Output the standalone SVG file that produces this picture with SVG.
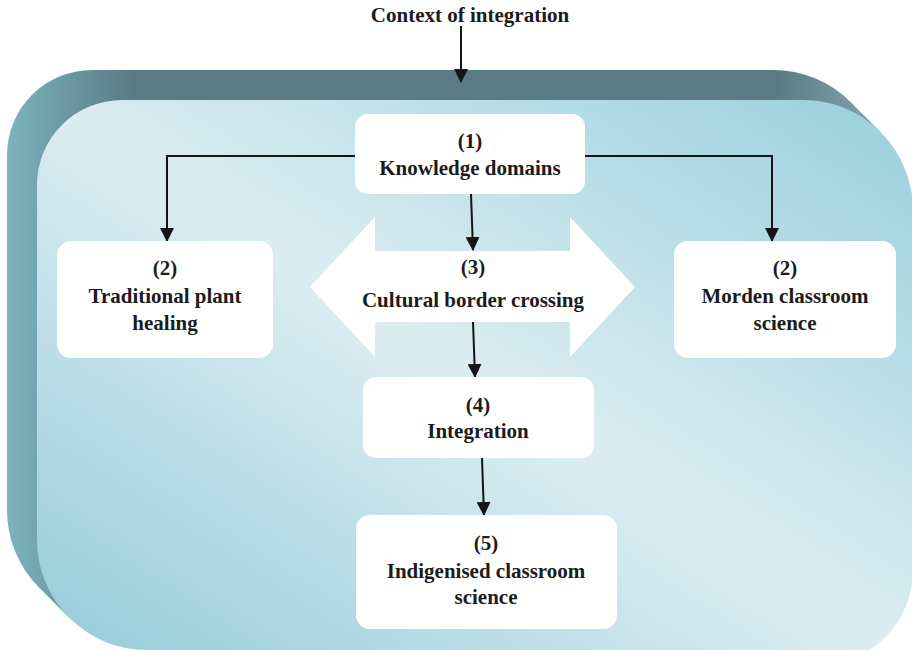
<svg xmlns="http://www.w3.org/2000/svg" width="912" height="650" viewBox="0 0 912 650">
<style>
.t{font-family:"Liberation Serif","Times New Roman",serif;font-weight:bold;font-size:21px;fill:#1c1c1c;text-anchor:middle}
.box{fill:#ffffff}
.ln{fill:none;stroke:#151515;stroke-width:2}
</style>
<defs>
<linearGradient id="side" gradientUnits="userSpaceOnUse" x1="7" y1="0" x2="912" y2="0">
<stop offset="0" stop-color="#7db2c0"/>
<stop offset="0.06" stop-color="#6d9ba6"/>
<stop offset="0.14" stop-color="#5a7b83"/>
<stop offset="0.85" stop-color="#5a7b83"/>
<stop offset="0.97" stop-color="#84aab3"/>
</linearGradient>
<linearGradient id="face" x1="0" y1="1" x2="1" y2="0">
<stop offset="0" stop-color="#92cad9"/>
<stop offset="0.5" stop-color="#dcedf2"/>
<stop offset="1" stop-color="#98cfdc"/>
</linearGradient>
<marker id="ah" markerUnits="userSpaceOnUse" markerWidth="14" markerHeight="14" refX="13" refY="7" orient="auto">
<path d="M0,0 L14,7 L0,14 Z" fill="#151515"/>
</marker>
</defs>
<rect width="912" height="650" fill="#ffffff"/>
<g id="container">
<path fill="url(#side)" d="M7,155 A85,85 0 0 1 92,70 L773,70 A110,110 0 0 1 850.8,102.2 L880.8,132.2 L69.2,617.8 L39.2,587.8 A110,110 0 0 1 7,510 Z"/>
<path fill="url(#face)" d="M37,185 A85,85 0 0 1 122,100 L803,100 A110,110 0 0 1 913,210 L913,570 A95,95 0 0 1 818,665 L147,650 A110,110 0 0 1 37,540 Z"/>
</g>
<g id="connectors">
<line class="ln" x1="461" y1="26" x2="461" y2="82" marker-end="url(#ah)"/>
<polyline class="ln" points="355,156 167,156 167,241" marker-end="url(#ah)"/>
<polyline class="ln" points="585,156 772,156 772,241" marker-end="url(#ah)"/>
<line class="ln" x1="471" y1="194" x2="473" y2="250" marker-end="url(#ah)"/>
<line class="ln" x1="473" y1="322" x2="475" y2="377" marker-end="url(#ah)"/>
<line class="ln" x1="482" y1="458" x2="484" y2="515" marker-end="url(#ah)"/>
</g>
<g id="title">
<text class="t" x="470" y="22">Context of integration</text>
</g>
<g id="node1">
<rect class="box" x="355" y="114" width="230" height="80" rx="13"/>
<text class="t" x="470" y="148">(1)</text>
<text class="t" x="470" y="175">Knowledge domains</text>
</g>
<g id="node2a">
<rect class="box" x="57" y="241" width="216" height="117" rx="14"/>
<text class="t" x="165" y="275">(2)</text>
<text class="t" x="165" y="303">Traditional plant</text>
<text class="t" x="165" y="330">healing</text>
</g>
<g id="node2b">
<rect class="box" x="674" y="241" width="222" height="117" rx="14"/>
<text class="t" x="785" y="275">(2)</text>
<text class="t" x="785" y="303">Morden classroom</text>
<text class="t" x="785" y="330">science</text>
</g>
<g id="node3">
<polygon class="box" points="310,287 375,217 375,251 570,251 570,217 635,287 570,357 570,322 375,322 375,357"/>
<text class="t" x="473" y="274">(3)</text>
<text class="t" x="473" y="307">Cultural border crossing</text>
</g>
<g id="node4">
<rect class="box" x="363" y="377" width="231" height="81" rx="13"/>
<text class="t" x="478" y="412">(4)</text>
<text class="t" x="478" y="438">Integration</text>
</g>
<g id="node5">
<rect class="box" x="356" y="515" width="261" height="114" rx="14"/>
<text class="t" x="486" y="550">(5)</text>
<text class="t" x="486" y="578">Indigenised classroom</text>
<text class="t" x="486" y="604">science</text>
</g>
</svg>
